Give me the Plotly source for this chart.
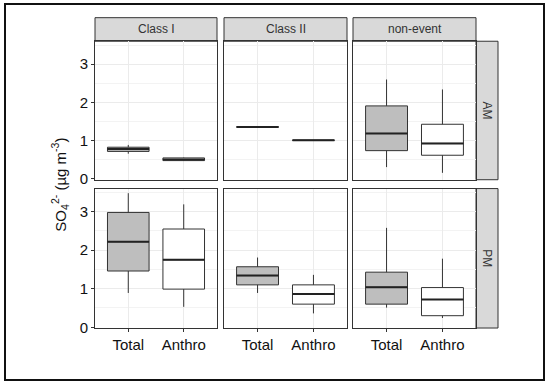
import plotly.graph_objects as go

W, H = 550, 391

classes = ["Class I", "Class II", "non-event"]
periods = ["AM", "PM"]
categories = ["Total", "Anthro"]
y_ticks = [0, 1, 2, 3]

# per panel [period][class] -> [Total, Anthro]
lower = {"AM": [[0.66, 0.47], [1.36, 1.01], [0.31, 0.16]],
         "PM": [[0.89, 0.53], [0.89, 0.36], [0.51, 0.24]]}
q1 = {"AM": [[0.72, 0.48], [1.36, 1.01], [0.74, 0.62]],
      "PM": [[1.46, 0.99], [1.10, 0.60], [0.60, 0.30]]}
med = {"AM": [[0.78, 0.51], [1.36, 1.01], [1.19, 0.93]],
       "PM": [[2.22, 1.75], [1.34, 0.86], [1.04, 0.72]]}
q3 = {"AM": [[0.83, 0.55], [1.36, 1.01], [1.91, 1.43]],
      "PM": [[2.98, 2.55], [1.57, 1.10], [1.43, 1.03]]}
upper = {"AM": [[0.89, 0.56], [1.36, 1.01], [2.60, 2.34]],
         "PM": [[3.48, 3.19], [1.81, 1.36], [2.58, 1.78]]}

fills = ["#bebebe", "#ffffff"]
line_col = "#333333"
box_w = 0.75

# panel pixel geometry
col_x = [(95, 217), (224, 347), (353, 476)]
row_y = [(42, 183), (192, 334)]
strip_top = (18, 42)
strip_right = (476, 498)

def px(x):
    return x / W

def py(y):
    return 1 - y / H

fig = go.Figure()
layout = {}
shapes = []
annotations = []

idx = 0
for r, per in enumerate(periods):
    for c, cl in enumerate(classes):
        idx += 1
        xa = "x" if idx == 1 else f"x{idx}"
        ya = "y" if idx == 1 else f"y{idx}"
        for k, cat in enumerate(categories):
            pos = k + 1
            fig.add_trace(go.Box(
                x=[pos], q1=[q1[per][c][k]], median=[med[per][c][k]],
                q3=[q3[per][c][k]], lowerfence=[lower[per][c][k]],
                upperfence=[upper[per][c][k]], width=box_w,
                fillcolor=fills[k], line=dict(color=line_col, width=1),
                whiskerwidth=0, boxpoints=False, showlegend=False,
                hoverinfo="skip", xaxis=xa, yaxis=ya))
            fig.add_trace(go.Scatter(
                x=[pos - box_w / 2, pos + box_w / 2],
                y=[med[per][c][k], med[per][c][k]], mode="lines",
                line=dict(color="#222222", width=2), showlegend=False,
                hoverinfo="skip", xaxis=xa, yaxis=ya))
        x0, x1 = col_x[c]
        y0, y1 = row_y[r]
        layout["xaxis" if idx == 1 else f"xaxis{idx}"] = dict(
            domain=[px(x0), px(x1)], anchor=ya, range=[0.4, 2.6],
            tickvals=[1, 2], ticktext=categories,
            showticklabels=(r == 1), ticks="outside" if r == 1 else "",
            ticklen=3, tickcolor=line_col,
            showgrid=True, gridcolor="#ebebeb", gridwidth=1,
            showline=True, linecolor=line_col, linewidth=1, mirror=True,
            zeroline=False, tickfont=dict(size=15, color="#111111"))
        layout["yaxis" if idx == 1 else f"yaxis{idx}"] = dict(
            domain=[py(y1), py(y0)], anchor=xa, range=[-0.02, 3.6],
            tickvals=y_ticks, showticklabels=(c == 0),
            ticks="outside" if c == 0 else "", ticklen=3, tickcolor=line_col,
            showgrid=True, gridcolor="#ebebeb", gridwidth=1,
            minor=dict(dtick=0.5, tick0=0, showgrid=True, gridcolor="#f3f3f3",
                       gridwidth=1),
            showline=True, linecolor=line_col, linewidth=1, mirror=True,
            zeroline=False, tickfont=dict(size=15, color="#111111"))

# top strips
for c, cl in enumerate(classes):
    x0, x1 = col_x[c]
    shapes.append(dict(type="rect", xref="paper", yref="paper",
                       x0=px(x0), x1=px(x1), y0=py(strip_top[1]), y1=py(strip_top[0]),
                       fillcolor="#d9d9d9", line=dict(color=line_col, width=1),
                       layer="below"))
    annotations.append(dict(text=cl, xref="paper", yref="paper",
                            x=px((x0 + x1) / 2), y=py(sum(strip_top) / 2),
                            showarrow=False, font=dict(size=12, color="#333333"),
                            xanchor="center", yanchor="middle"))
# right strips
for r, per in enumerate(periods):
    y0, y1 = row_y[r]
    shapes.append(dict(type="rect", xref="paper", yref="paper",
                       x0=px(strip_right[0]), x1=px(strip_right[1]),
                       y0=py(y1), y1=py(y0),
                       fillcolor="#d9d9d9", line=dict(color=line_col, width=1),
                       layer="below"))
    annotations.append(dict(text=per, xref="paper", yref="paper",
                            x=px(sum(strip_right) / 2), y=py((y0 + y1) / 2),
                            showarrow=False, textangle=90,
                            font=dict(size=12, color="#333333"),
                            xanchor="center", yanchor="middle"))

# y label
annotations.append(dict(text="SO<sub>4</sub><sup>2-</sup> (µg m<sup>-3</sup>)",
                        xref="paper", yref="paper", x=px(60), y=py(188),
                        showarrow=False, textangle=-90,
                        font=dict(size=15, color="#111111"),
                        xanchor="center", yanchor="middle"))

# outer frame
shapes.append(dict(type="rect", xref="paper", yref="paper",
                   x0=px(5), x1=px(544), y0=py(387), y1=py(4),
                   line=dict(color="#111111", width=2), fillcolor="rgba(0,0,0,0)"))

fig.update_layout(width=W, height=H, margin=dict(l=0, r=0, t=0, b=0),
                  paper_bgcolor="white", plot_bgcolor="white",
                  font=dict(family="Liberation Sans, Arial, sans-serif"),
                  shapes=shapes, annotations=annotations, **layout)

fig.write_html("out.html", config={"displayModeBar": False},
               post_script="document.body.style.margin='0';document.body.style.overflow='hidden';")
